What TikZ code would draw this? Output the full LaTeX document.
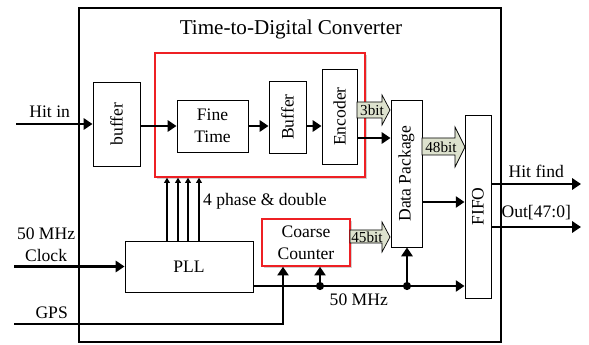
\documentclass[tikz,border=0pt]{standalone}
\usepackage{fontspec}
\setmainfont{Liberation Serif}
\usepackage{graphicx}
\usetikzlibrary{arrows.meta,shadows}
\definecolor{bitfill}{RGB}{221,226,206}
\definecolor{tdcred}{RGB}{238,32,36}

\begin{document}
\begin{tikzpicture}[x=0.03cm,y=-0.03cm,
    font=\fontsize{15}{18.5}\selectfont,
    blk/.style={draw, fill=white, line width=0.8pt, inner sep=0pt, align=center},
    redblk/.style={draw=tdcred, fill=white, line width=1.2pt, inner sep=0pt, align=center,
      drop shadow={opacity=0.35, shadow xshift=1.5pt, shadow yshift=-1.5pt}},
    sig/.style={line width=2pt, -{Triangle[length=7.5pt,width=9.5pt]}},
    phase/.style={line width=1pt, -{Triangle[length=4.5pt,width=5pt]}},
    bitarrow/.style={draw, fill=bitfill, line width=0.6pt},
    bitlbl/.style={font=\fontsize{13}{15}\selectfont, inner sep=0pt},
    dot/.style={fill, circle, inner sep=0pt, minimum size=7pt}]
    \useasboundingbox (0,0) rectangle (589,345);

    %%%%%%%%%%%%%%%%%%%%%%%%%%%%%%%%%%%%%%%%%%%%%%
    % Frame of the converter
    %%%%%%%%%%%%%%%%%%%%%%%%%%%%%%%%%%%%%%%%%%%%%%
    \draw[line width=1.7pt, fill=white] (79,8) rectangle (501,342);
    \node[font=\fontsize{18}{20}\selectfont] (title) at (291,29) {Time-to-Digital Converter};

    % Fine time part (red) and coarse counter
    \node[redblk, minimum width=6.3cm, minimum height=3.72cm] (fine) at (260,115) {};
    \node[redblk, minimum width=2.64cm, minimum height=1.41cm] (cc) at (306,242.5) {Coarse\\Counter};

    % Blocks
    \node[blk, minimum width=1.41cm, minimum height=2.52cm] (buf) at (116.5,124) {\rotatebox{90}{buffer}};
    \node[blk, minimum width=2.13cm, minimum height=1.56cm] (ft) at (212.5,126) {Fine\\Time};
    \node[blk, minimum width=1.11cm, minimum height=2.16cm] (bf) at (287.5,117) {\rotatebox{90}{Buffer}};
    \node[blk, minimum width=1.05cm, minimum height=2.85cm] (enc) at (339.5,116.5) {\rotatebox{90}{Encoder}};
    \node[blk, minimum width=0.93cm, minimum height=4.41cm] (dp) at (406.5,173.5) {\rotatebox{90}{Data Package}};
    \node[blk, minimum width=0.78cm, minimum height=5.49cm] (fifo) at (478,206.5) {\rotatebox{90}{FIFO}};
    \node[blk, minimum width=3.84cm, minimum height=1.53cm] (pll) at (189,266.5) {PLL};

    % Free ends
    \coordinate (hitin) at (16,124);
    \coordinate (clkin) at (14,266.5);
    \coordinate (gpsin) at (14,324);
    \coordinate (pllout) at (253,286);
    \coordinate (encout) at (357,138);
    \coordinate (dpout) at (422,202);
    \coordinate (hitout) at (581,184);
    \coordinate (dataout) at (581,227);

    % Hit path
    \draw[sig] (hitin) -- node[above=1pt, pos=0.44] {Hit in} (buf.west);
    \draw[sig] (buf.east |- ft.west) -- (ft.west);
    \draw[sig] (ft.east) -- (bf.west |- ft.east);
    \draw[sig] (bf.east |- ft.east) -- (enc.west |- ft.east);
    \draw[sig] (encout) -- (dp.west |- encout);
    \draw[sig] (dpout) -- (fifo.west |- dpout);
    \draw[sig] (fifo.east |- hitout) -- node[above=1pt] {Hit find} (hitout);
    \draw[sig] (fifo.east |- dataout) -- node[above=2pt] {Out[47:0]} (dataout);

    % Bit buses
    \draw[bitarrow] (357,102) -- (382,102) -- (382,95) -- (390,110) -- (382,125) -- (382,118) -- (357,118) -- cycle;
    \node[bitlbl] (b3) at (372,110) {3bit};
    \draw[bitarrow] (422,138) -- (455,138) -- (455,127) -- (465,147) -- (455,167) -- (455,155) -- (422,155) -- cycle;
    \node[bitlbl] (b48) at (441,147) {48bit};
    \draw[bitarrow] (350,230) -- (382,230) -- (382,222) -- (390,237) -- (382,252) -- (382,243) -- (350,243) -- cycle;
    \node[bitlbl] (b45) at (367,237) {45bit};

    % Clocks
    \draw[sig] (clkin) -- node[above, pos=0.29, align=center] {50 MHz\\Clock} (pll.west);
    \foreach \x in {167,178,188,199}
      \draw[phase] (\x,0 |- pll.north) -- (\x,0 |- fine.south);
    \node[anchor=west, inner sep=0pt] (ph) at (203,201) {4 phase \& double};
    \draw[sig] (pllout) -- node[below=2pt, pos=0.5] {50 MHz} (fifo.west |- pllout);
    \node[dot] (d1) at (320,286) {};
    \node[dot] (d2) at (407,286) {};
    \draw[sig] (d1) -- (d1 |- cc.south);
    \draw[sig] (d2) -- (d2 |- dp.south);
    \draw[sig] (gpsin) -| node[above, pos=0.07] {GPS} (cc.south -| 283,0);
  \end{tikzpicture}
\end{document}
